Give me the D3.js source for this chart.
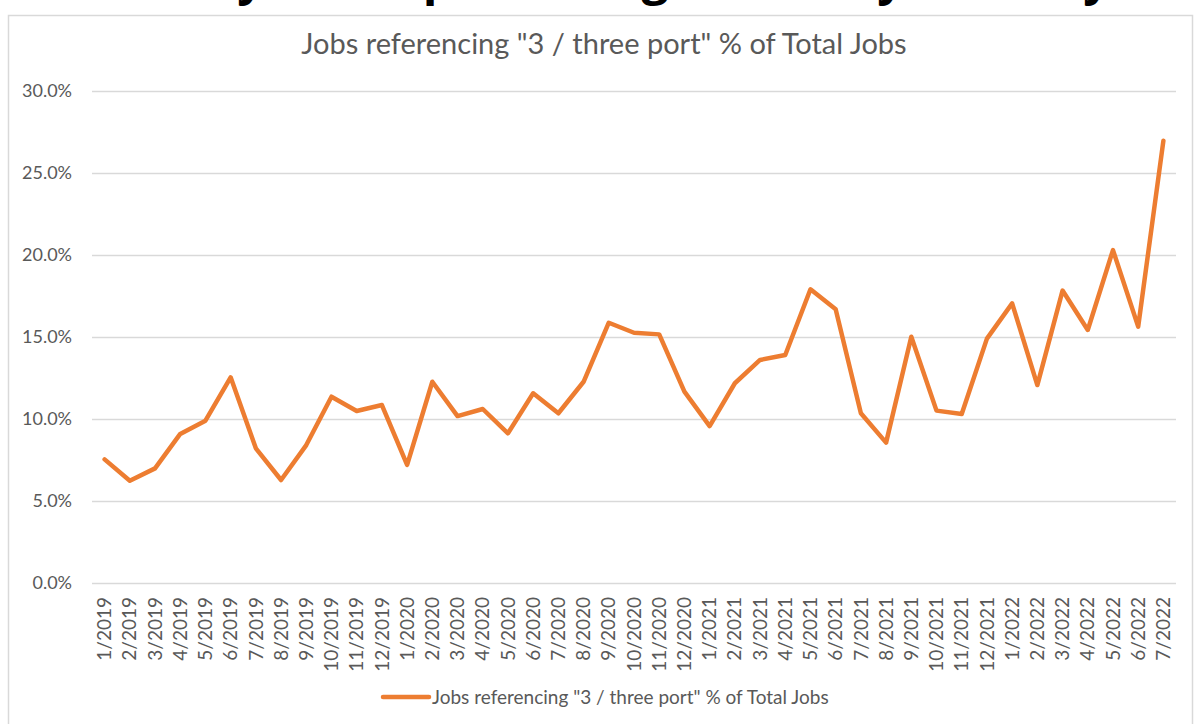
<!DOCTYPE html>
<html>
<head>
<meta charset="utf-8">
<script src="https://cdn.jsdelivr.net/npm/d3@7"></script>
<style>
  html, body { margin: 0; padding: 0; background: #fff; }
  svg { display: block; }
</style>
</head>
<body>
<div id="chart"></div>
<script>
// months on the x axis
const months = [
  '1/2019', '2/2019', '3/2019', '4/2019', '5/2019', '6/2019', '7/2019', '8/2019', '9/2019', '10/2019', '11/2019', '12/2019',
  '1/2020', '2/2020', '3/2020', '4/2020', '5/2020', '6/2020', '7/2020', '8/2020', '9/2020', '10/2020', '11/2020', '12/2020',
  '1/2021', '2/2021', '3/2021', '4/2021', '5/2021', '6/2021', '7/2021', '8/2021', '9/2021', '10/2021', '11/2021', '12/2021',
  '1/2022', '2/2022', '3/2022', '4/2022', '5/2022', '6/2022', '7/2022'
];

// share of jobs mentioning "3 / three port", in percent
const sharePct = [
  7.54, 6.24, 6.99, 9.09, 9.9, 12.54, 8.21, 6.28, 8.41, 11.36, 10.49, 10.85,
  7.2, 12.27, 10.18, 10.61, 9.13, 11.57, 10.35, 12.27, 15.87, 15.26, 15.16, 11.67,
  9.57, 12.18, 13.6, 13.9, 17.91, 16.69, 10.35, 8.56, 15.02, 10.51, 10.3, 14.9,
  17.05, 12.07, 17.83, 15.43, 20.3, 15.63, 26.97
];

const yTicks = [0, 5, 10, 15, 20, 25, 30];

const seriesName = 'Jobs referencing "3 / three port" % of Total Jobs';
const titleText = 'Jobs referencing "3 / three port" % of Total Jobs';
// only the bottom of the slide heading above the chart is visible
const headingLetters = ['y', 'p', 'g', 'y', 'y'];

const W = 1195, H = 724;
const plot = { left: 92, right: 1176, top: 91, bottom: 583 };
const lineColor = '#ED7D31';
const gridColor = '#d9d9d9';
const textColor = '#595959';
const font = 'Lato, "Open Sans", sans-serif';

const svg = d3.select('#chart').append('svg')
  .attr('width', W)
  .attr('height', H);

// cut off heading of the page (only the descenders peek in)
const headX = [251, 438, 655, 891, 1097];
svg.selectAll('text.head')
  .data(headingLetters)
  .enter()
  .append('text')
  .attr('class', 'head')
  .attr('x', (d, i) => headX[i])
  .attr('y', -6)
  .attr('text-anchor', 'middle')
  .style('font-family', '"Open Sans", sans-serif')
  .style('font-weight', 'bold')
  .style('font-size', '48px')
  .style('fill', '#000')
  .text(d => d);

// chart frame
svg.append('rect')
  .attr('x', 8.5)
  .attr('y', 15.5)
  .attr('width', 1184)
  .attr('height', 720)
  .attr('fill', '#fff')
  .attr('stroke', gridColor)
  .attr('stroke-width', 1.5);

const x = d3.scaleBand()
  .domain(months)
  .range([plot.left, plot.right]);

const y = d3.scaleLinear()
  .domain([0, 30])
  .range([plot.bottom, plot.top]);

// gridlines + y labels
const yAxis = svg.append('g')
  .attr('transform', 'translate(' + plot.left + ',0)')
  .call(d3.axisLeft(y)
    .tickValues(yTicks)
    .tickSize(-(plot.right - plot.left))
    .tickPadding(20)
    .tickFormat(d => d.toFixed(1) + '%'));
yAxis.select('.domain').remove();
yAxis.selectAll('.tick line')
  .attr('stroke', gridColor)
  .attr('stroke-width', 1.5);
yAxis.selectAll('.tick text')
  .style('font-family', font)
  .style('font-size', '18px')
  .style('fill', textColor);

// x labels, rotated
const xAxis = svg.append('g')
  .attr('transform', 'translate(0,' + plot.bottom + ')')
  .call(d3.axisBottom(x).tickSize(0).tickPadding(0));
xAxis.select('.domain').remove();
xAxis.selectAll('.tick text')
  .attr('transform', 'rotate(-90)')
  .attr('text-anchor', 'end')
  .attr('x', -14)
  .attr('y', 0)
  .attr('dy', '0.35em')
  .style('font-family', font)
  .style('font-size', '19px')
  .style('fill', textColor);

// the series
const line = d3.line()
  .x((d, i) => x(months[i]) + x.bandwidth() / 2)
  .y(d => y(d));

svg.append('path')
  .datum(sharePct)
  .attr('d', line)
  .attr('fill', 'none')
  .attr('stroke', lineColor)
  .attr('stroke-width', 4.5)
  .attr('stroke-linejoin', 'round')
  .attr('stroke-linecap', 'round');

// title
svg.append('text')
  .attr('x', 604)
  .attr('y', 54)
  .attr('text-anchor', 'middle')
  .style('font-family', font)
  .style('font-size', '29px')
  .style('fill', textColor)
  .text(titleText);

// legend
const legend = svg.append('g').attr('transform', 'translate(383,697)');
legend.append('line')
  .attr('x1', 0).attr('x2', 46)
  .attr('y1', 0).attr('y2', 0)
  .attr('stroke', lineColor)
  .attr('stroke-width', 4.5)
  .attr('stroke-linecap', 'round');
legend.append('text')
  .attr('x', 49)
  .attr('y', 0)
  .attr('dy', '0.35em')
  .style('font-family', font)
  .style('font-size', '19px')
  .style('fill', textColor)
  .text(seriesName);
</script>
</body>
</html>
